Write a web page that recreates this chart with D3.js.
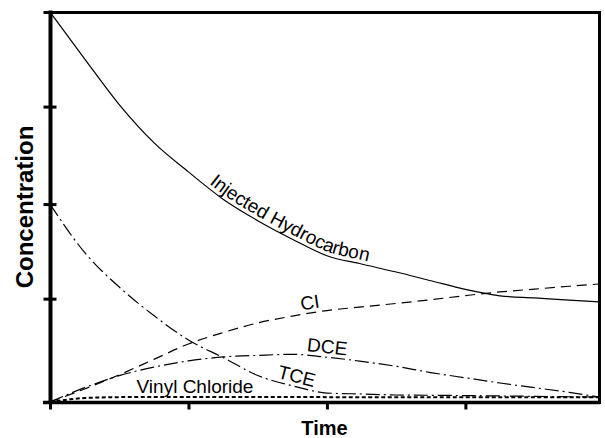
<!DOCTYPE html>
<html>
<head>
<meta charset="utf-8">
<script src="https://cdn.jsdelivr.net/npm/d3@7"></script>
<style>
  html, body { margin: 0; padding: 0; background: #fff; }
  svg { display: block; font-family: "Liberation Sans", Arial, Helvetica, sans-serif; }
</style>
</head>
<body>
<svg id="chart" width="605" height="438"></svg>
<script>
// ---- data ----
const times = [0, 0.25, 0.5, 0.75, 1, 1.25, 1.5, 1.75, 2, 2.25, 2.5, 2.75, 3, 3.25, 3.5, 3.75, 3.965];
const injectedHydrocarbon = [4.00, 3.52, 3.05, 2.66, 2.36, 2.08, 1.86, 1.67, 1.50, 1.415, 1.333, 1.244, 1.155, 1.089, 1.067, 1.044, 1.026];
const tce = [2.03, 1.534, 1.179, 0.887, 0.636, 0.456, 0.272, 0.167, 0.092, 0.082, 0.072, 0.069, 0.066, 0.062, 0.058, 0.054, 0.051];
const ci = [0, 0.134, 0.279, 0.437, 0.595, 0.712, 0.811, 0.881, 0.938, 0.975, 1.011, 1.049, 1.091, 1.129, 1.158, 1.187, 1.210];
const dce = [0, 0.147, 0.270, 0.358, 0.421, 0.462, 0.478, 0.489, 0.459, 0.417, 0.366, 0.302, 0.248, 0.195, 0.147, 0.099, 0.051];
const vinylChloride = [0, 0.041, 0.050, 0.052, 0.052, 0.052, 0.052, 0.051, 0.050, 0.050, 0.049, 0.048, 0.048, 0.048, 0.048, 0.048, 0.048];
const xTicks = [0, 1, 2, 3];
const yTicks = [0, 1.06, 2.03, 3.03, 4];
const xTitle = "Time";
const yTitle = "Concentration";

const series = [
  { name: "Injected Hydrocarbon", values: injectedHydrocarbon, dash: null, width: 1.2, labelX: 1.13, dy: -4 },
  { name: "CI", values: ci, dash: "10,6", width: 1.2, labelX: 1.82, dy: -4 },
  { name: "DCE", values: dce, dash: "14,4,2,4", width: 1.2, labelX: 1.85, dy: -4 },
  { name: "TCE", values: tce, dash: "14,4,2,4", width: 1.2, labelX: 1.63, dy: -4 },
  { name: "Vinyl Chloride", values: vinylChloride, dash: "4,2.5", width: 2, labelX: null }
];
const vinylLabelPos = { x: 0.625, y: 0.095 };

// ---- drawing ----
const svg = d3.select("#chart");
const x = d3.scaleLinear().domain([0, 3.965]).range([50, 599]);
const y = d3.scaleLinear().domain([0, 4]).range([402, 12]);

svg.append("rect").attr("width", 605).attr("height", 438).attr("fill", "#fff");

const line = d3.line()
  .x((d) => x(d[0]))
  .y((d) => y(d[1]))
  .curve(d3.curveMonotoneX);

const plot = svg.append("g");
const labelSize = 19;

series.forEach((s, i) => {
  const pts = times.map((t, k) => [t, s.values[k]]);
  const p = plot.append("path")
    .attr("id", "curve" + i)
    .attr("d", line(pts))
    .attr("fill", "none")
    .attr("stroke", "#000")
    .attr("stroke-width", s.width)
    .attr("stroke-dasharray", s.dash);
  if (s.labelX != null) {
    const node = p.node();
    const total = node.getTotalLength();
    const target = x(s.labelX);
    let lo = 0, hi = total;
    for (let it = 0; it < 40; it++) {
      const mid = (lo + hi) / 2;
      if (node.getPointAtLength(mid).x < target) lo = mid; else hi = mid;
    }
    plot.append("text")
      .attr("font-size", labelSize)
      .attr("fill", "#000")
      .attr("dy", s.dy)
      .append("textPath")
      .attr("href", "#curve" + i)
      .attr("startOffset", lo)
      .text(s.name);
  }
});

plot.append("text")
  .attr("x", x(vinylLabelPos.x))
  .attr("y", y(vinylLabelPos.y))
  .attr("font-size", labelSize)
  .attr("fill", "#000")
  .text("Vinyl Chloride");

// frame (top and right)
svg.append("line").attr("x1", 50).attr("x2", 600.5).attr("y1", 12.5).attr("y2", 12.5)
  .attr("stroke", "#000").attr("stroke-width", 3);
svg.append("line").attr("x1", 599.5).attr("x2", 599.5).attr("y1", 11).attr("y2", 404)
  .attr("stroke", "#000").attr("stroke-width", 3);

// axes
const xAxis = svg.append("g").attr("transform", `translate(0,${y(0) + 0.5})`)
  .call(d3.axisBottom(x).tickValues(xTicks).tickSize(7).tickFormat(""));
xAxis.select(".domain").attr("d", `M${x(0) - 7},0H${x.range()[1] + 1}`).attr("stroke-width", 3.5);
xAxis.selectAll(".tick line").attr("stroke-width", 3).attr("y1", 0);

const yAxis = svg.append("g").attr("transform", `translate(${x(0) + 0.5},0)`)
  .call(d3.axisLeft(y).tickValues(yTicks).tickSize(7).tickFormat(""));
yAxis.select(".domain").attr("d", `M0,${y.range()[1] - 1.5}V${y.range()[0] + 2}`).attr("stroke-width", 4);
yAxis.selectAll(".tick line").attr("stroke-width", 3).attr("x1", 6);

// titles
svg.append("text")
  .attr("x", (x.range()[0] + x.range()[1]) / 2)
  .attr("y", 435)
  .attr("text-anchor", "middle")
  .attr("font-size", 20)
  .attr("font-weight", "bold")
  .text(xTitle);

svg.append("text")
  .attr("transform", `translate(33,${(y.range()[0] + y.range()[1]) / 2}) rotate(-90)`)
  .attr("text-anchor", "middle")
  .attr("font-size", 24)
  .attr("font-weight", "bold")
  .text(yTitle);
</script>
</body>
</html>
